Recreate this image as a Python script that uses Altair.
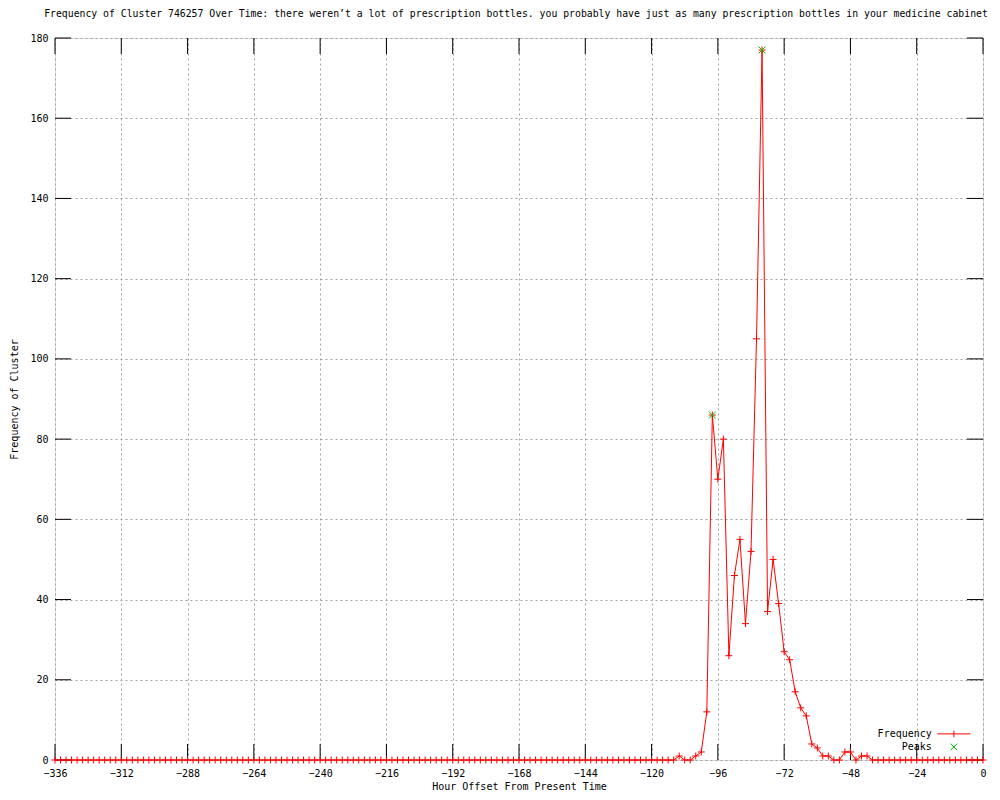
import altair as alt
import pandas as pd

# ---- data ----
hours = list(range(-336, 1, 2))
frequency = [
    0, 0, 0, 0, 0, 0, 0, 0, 0, 0, 0, 0,        # -336 .. -314
    0, 0, 0, 0, 0, 0, 0, 0, 0, 0, 0, 0,        # -312 .. -290
    0, 0, 0, 0, 0, 0, 0, 0, 0, 0, 0, 0,        # -288 .. -266
    0, 0, 0, 0, 0, 0, 0, 0, 0, 0, 0, 0,        # -264 .. -242
    0, 0, 0, 0, 0, 0, 0, 0, 0, 0, 0, 0,        # -240 .. -218
    0, 0, 0, 0, 0, 0, 0, 0, 0, 0, 0, 0,        # -216 .. -194
    0, 0, 0, 0, 0, 0, 0, 0, 0, 0, 0, 0,        # -192 .. -170
    0, 0, 0, 0, 0, 0, 0, 0, 0, 0, 0, 0,        # -168 .. -146
    0, 0, 0, 0, 0, 0, 0, 0, 0, 0, 0, 0,        # -144 .. -122
    0, 0, 0, 0, 0, 1, 0, 0, 1, 2, 12, 86,      # -120 .. -98
    70, 80, 26, 46, 55, 34, 52, 105, 177, 37, 50, 39,  # -96 .. -74
    27, 25, 17, 13, 11, 4, 3, 1, 1, 0, 0, 2,   # -72 .. -50
    2, 0, 1, 1, 0, 0, 0, 0, 0, 0, 0, 0,        # -48 .. -26
    0, 0, 0, 0, 0, 0, 0, 0, 0, 0, 0, 0,        # -24 .. -2
    0,                                         # 0
]
peak_hours = [-98, -80]
peak_values = [86, 177]
x_ticks = list(range(-336, 1, 24))
y_ticks = list(range(0, 181, 20))

TITLE = ("Frequency of Cluster 746257 Over Time: there weren\u2019t a lot of prescription "
         "bottles. you probably have just as many prescription bottles in your medicine cabinet")

df = pd.DataFrame({"hour": hours, "freq": frequency})
df["s_freq"] = "Frequency"
pk = pd.DataFrame({"hour": peak_hours, "freq": peak_values})
pk["s_peak"] = "Peaks"
xt = pd.DataFrame({"t": x_ticks})
yt = pd.DataFrame({"t": y_ticks})

W, H = 928, 722
FONT = "DejaVu Sans Mono"
RED = "#ff0000"
GREEN = "#00c000"
TICK = 16

PLUS = "M-1,0L1,0M0,-1L0,1"
XMARK = "M-1,-1L1,1M-1,1L1,-1"
# legend symbols, drawn to the right of their labels (gnuplot style key)
LEGEND_LINE = "M1.985,0L6.985,0M4.485,-0.5L4.485,0.5"
LEGEND_X = "M3.985,-0.5L4.985,0.5M3.985,0.5L4.985,-0.5"

xscale = alt.Scale(domain=[-336, 0], nice=False, zero=False)
yscale = alt.Scale(domain=[0, 180], nice=False)

xaxis = alt.Axis(values=x_ticks, grid=True, gridDash=[2, 3], gridColor="#a0a0a0",
                 gridOpacity=1, ticks=False, domain=False, labelFont=FONT,
                 labelFontSize=10, labelColor="black", labelPadding=8,
                 labelOverlap=False, labelFlush=False,
                 title="Hour Offset From Present Time", titleFont=FONT,
                 titleFontSize=10, titleFontWeight="normal", titleColor="black",
                 titlePadding=3)
yaxis = alt.Axis(values=y_ticks, grid=True, gridDash=[2, 3], gridColor="#a0a0a0",
                 gridOpacity=1, ticks=False, domain=False, labelFont=FONT,
                 labelFontSize=10, labelColor="black", labelPadding=7,
                 labelOverlap=False, labelFlush=False,
                 title="Frequency of Cluster", titleFont=FONT,
                 titleFontSize=10, titleFontWeight="normal", titleColor="black",
                 titlePadding=10)

X = lambda f: alt.X(f, type="quantitative", scale=xscale, axis=xaxis)
Y = lambda f: alt.Y(f, type="quantitative", scale=yscale, axis=yaxis)


def key(y, symbol, color):
    return alt.Legend(title=None, orient="none", legendX=861.8, legendY=y,
                      symbolType=symbol, symbolSize=174, symbolStrokeWidth=1,
                      symbolStrokeColor=color, symbolFillColor="transparent",
                      labelAlign="right", labelOffset=0, labelFont=FONT,
                      labelFontSize=10, labelColor="black", padding=0)


line = alt.Chart(df).mark_line(strokeWidth=1).encode(
    x=X("hour"), y=Y("freq"),
    stroke=alt.Stroke("s_freq:N", scale=alt.Scale(domain=["Frequency"], range=[RED]),
                      legend=key(688.4, LEGEND_LINE, RED)),
)

marks = alt.Chart(df).mark_point(filled=False, strokeWidth=1, opacity=1).encode(
    x=X("hour"), y=Y("freq"),
    shape=alt.value(PLUS), size=alt.value(49), stroke=alt.value(RED),
)

peaks = alt.Chart(pk).mark_point(filled=False, strokeWidth=1, opacity=1).encode(
    x=X("hour"), y=Y("freq"),
    stroke=alt.Stroke("s_peak:N", scale=alt.Scale(domain=["Peaks"], range=[GREEN]),
                      legend=key(701.4, LEGEND_X, GREEN)),
    shape=alt.value(XMARK), size=alt.value(49),
)

xt_bottom = alt.Chart(xt).mark_rule(color="black", strokeWidth=1).encode(
    x=X("t"), y=alt.value(H), y2=alt.value(H - TICK))
xt_top = alt.Chart(xt).mark_rule(color="black", strokeWidth=1).encode(
    x=X("t"), y=alt.value(0), y2=alt.value(TICK))
yt_left = alt.Chart(yt).mark_rule(color="black", strokeWidth=1).encode(
    y=Y("t"), x=alt.value(0), x2=alt.value(TICK))
yt_right = alt.Chart(yt).mark_rule(color="black", strokeWidth=1).encode(
    y=Y("t"), x=alt.value(W), x2=alt.value(W - TICK))

chart = alt.layer(xt_bottom, xt_top, yt_left, yt_right, line, marks, peaks).resolve_scale(
    stroke="independent"
).resolve_legend(stroke="independent").properties(
    width=W, height=H,
    title=alt.TitleParams(TITLE, font=FONT, fontSize=9.8, fontWeight="normal",
                          color="black", anchor="middle", offset=14, dx=-3),
    autosize=alt.AutoSizeParams(type="none"),
    padding={"left": 47, "top": 30, "right": 9, "bottom": 32},
).configure_view(stroke="black", strokeWidth=1).configure(background="white")

chart.save("out.html", embed_options={"renderer": "svg", "actions": False})
